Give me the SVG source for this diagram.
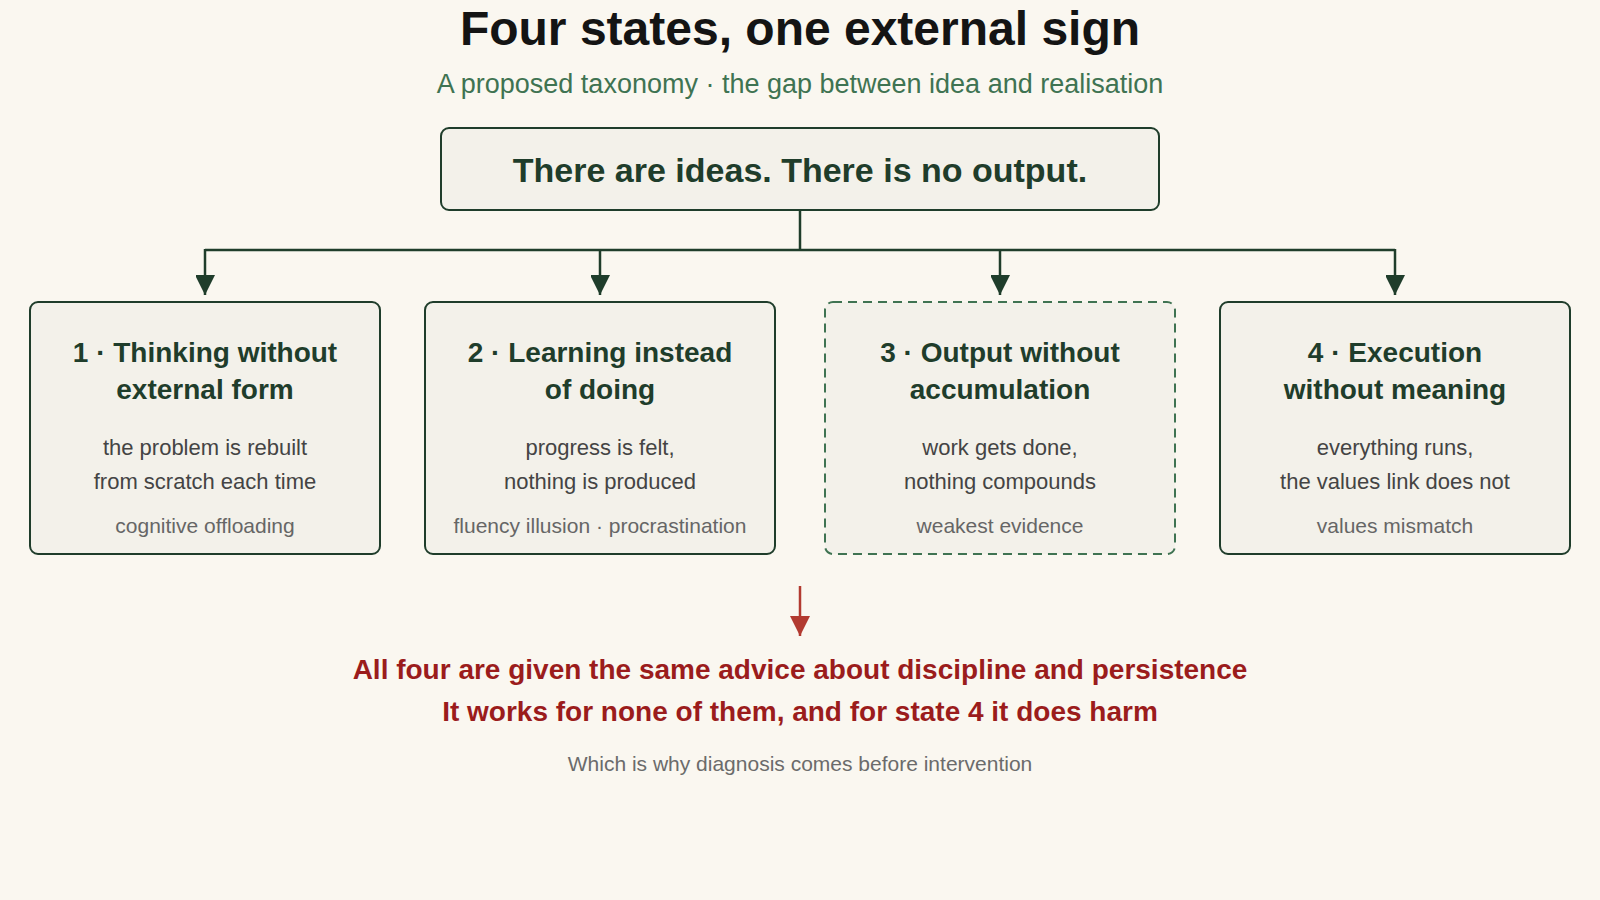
<svg xmlns="http://www.w3.org/2000/svg" width="1600" height="900" viewBox="0 0 1600 900">
<defs>
<marker id="ah" viewBox="0 0 20 19" refX="20" refY="10" markerWidth="20" markerHeight="19" markerUnits="userSpaceOnUse" orient="auto">
<path d="M0,0 L20,10 L0,20 Z" fill="#1f3d2b"/>
</marker>
<marker id="ahr" viewBox="0 0 20 20" refX="20" refY="10" markerWidth="20" markerHeight="20" markerUnits="userSpaceOnUse" orient="auto">
<path d="M0,0 L20,10 L0,20 Z" fill="#b23a30"/>
</marker>
</defs>
<style>
text{font-family:"Liberation Sans",Arial,Helvetica,sans-serif;text-anchor:middle}
.title{font-size:48px;font-weight:bold;fill:#141414}
.sub{font-size:27px;fill:#3f7352}
.box{fill:#f3f1ea;stroke:#1f3d2b;stroke-width:2}
.dash{fill:#f3f1ea;stroke:#3f7352;stroke-width:2;stroke-dasharray:9 6}
.top{font-size:34px;font-weight:bold;fill:#1f3d2b}
.nt{font-size:28px;font-weight:bold;fill:#1f3d2b}
.nd{font-size:22px;fill:#444444}
.tag{font-size:21px;fill:#666666}
.conn{fill:none;stroke:#1f3d2b;stroke-width:2.5}
.red{font-size:28px;font-weight:bold;fill:#9b1c1c}
.foot{font-size:21px;fill:#6b6b6b}
</style>
<rect x="0" y="0" width="1600" height="900" fill="#faf7f0"/>
<text class="title" x="800" y="45">Four states, one external sign</text>
<text class="sub" x="800" y="93">A proposed taxonomy · the gap between idea and realisation</text>

<g id="connectors">
<path class="conn" d="M800,210 V250"/>
<path class="conn" d="M205,250 H1395"/>
<path class="conn" d="M205,249 V295" marker-end="url(#ah)"/>
<path class="conn" d="M600,250 V295" marker-end="url(#ah)"/>
<path class="conn" d="M1000,250 V295" marker-end="url(#ah)"/>
<path class="conn" d="M1395,249 V295" marker-end="url(#ah)"/>
<path d="M800,586 V636" fill="none" stroke="#b23a30" stroke-width="2.5" marker-end="url(#ahr)"/>
</g>

<g id="root">
<rect class="box" x="441" y="128" width="718" height="82" rx="8"/>
<text class="top" x="800" y="182">There are ideas. There is no output.</text>
</g>

<g id="state1">
<rect class="box" x="30" y="302" width="350" height="252" rx="8"/>
<text class="nt" x="205" y="362">1 · Thinking without</text>
<text class="nt" x="205" y="399">external form</text>
<text class="nd" x="205" y="455">the problem is rebuilt</text>
<text class="nd" x="205" y="489">from scratch each time</text>
<text class="tag" x="205" y="533">cognitive offloading</text>
</g>

<g id="state2">
<rect class="box" x="425" y="302" width="350" height="252" rx="8"/>
<text class="nt" x="600" y="362">2 · Learning instead</text>
<text class="nt" x="600" y="399">of doing</text>
<text class="nd" x="600" y="455">progress is felt,</text>
<text class="nd" x="600" y="489">nothing is produced</text>
<text class="tag" x="600" y="533">fluency illusion · procrastination</text>
</g>

<g id="state3">
<rect class="dash" x="825" y="302" width="350" height="252" rx="8"/>
<text class="nt" x="1000" y="362">3 · Output without</text>
<text class="nt" x="1000" y="399">accumulation</text>
<text class="nd" x="1000" y="455">work gets done,</text>
<text class="nd" x="1000" y="489">nothing compounds</text>
<text class="tag" x="1000" y="533">weakest evidence</text>
</g>

<g id="state4">
<rect class="box" x="1220" y="302" width="350" height="252" rx="8"/>
<text class="nt" x="1395" y="362">4 · Execution</text>
<text class="nt" x="1395" y="399">without meaning</text>
<text class="nd" x="1395" y="455">everything runs,</text>
<text class="nd" x="1395" y="489">the values link does not</text>
<text class="tag" x="1395" y="533">values mismatch</text>
</g>

<g id="conclusion">
<text class="red" x="800" y="679">All four are given the same advice about discipline and persistence</text>
<text class="red" x="800" y="721">It works for none of them, and for state 4 it does harm</text>
<text class="foot" x="800" y="771">Which is why diagnosis comes before intervention</text>
</g>
</svg>
